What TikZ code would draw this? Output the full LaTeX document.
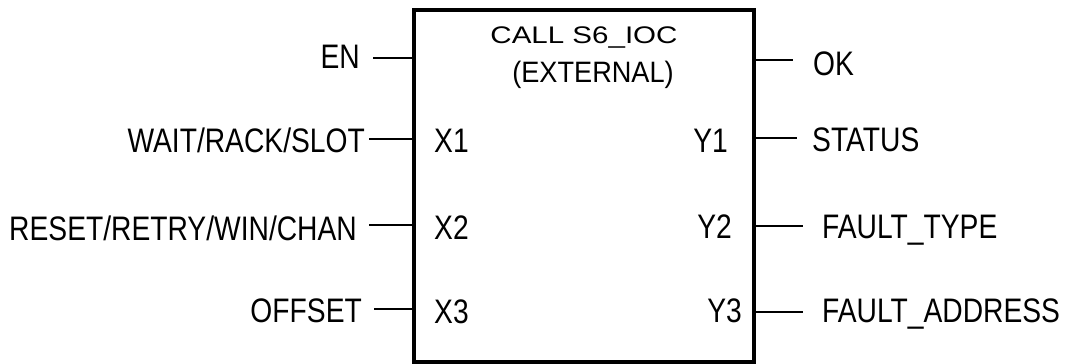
\documentclass[tikz,border=0pt]{standalone}
\usepackage{fontspec}
\setmainfont{Liberation Sans}
\newfontfamily\pinfont[FakeStretch=0.83]{Liberation Sans}
\newfontfamily\headfont[FakeStretch=1.23]{Liberation Sans}
\newfontfamily\subfont[FakeStretch=0.92]{Liberation Sans}
\begin{document}
\begin{tikzpicture}[x=1pt,y=-1pt,
  lbl/.style={font=\pinfont\fontsize{34}{38}\selectfont, inner sep=0pt,
              text height=23.4pt, text depth=0pt},
  pinline/.style={line width=2pt},
  block/.style={draw, line width=4pt, minimum width=340pt,
                minimum height=352pt, inner sep=0pt}]
\useasboundingbox (0,0) rectangle (1069,364);

% function block
\node[block] (fb) at (584,186) {};
\node[font=\headfont\fontsize{24}{27}\selectfont, inner sep=0pt,
      text height=16.5pt, text depth=0pt] (title) at (584,35) {CALL S6\_IOC};
\node[font=\subfont\fontsize{29.5}{33}\selectfont, inner sep=0pt,
      text height=20.3pt, text depth=0pt] (kind) at (593,72) {(EXTERNAL)};

% inputs
\node[lbl, anchor=east] (en)  at (360,57)  {EN};
\node[lbl, anchor=east] (in1) at (365,141) {WAIT/RACK/SLOT};
\node[lbl, anchor=east] (in2) at (357,229) {RESET/RETRY/WIN/CHAN};
\node[lbl, anchor=east] (in3) at (362,311) {OFFSET};

\node[lbl, anchor=west] (x1) at (434,141) {X1};
\node[lbl, anchor=west] (x2) at (434,228) {X2};
\node[lbl, anchor=west] (x3) at (434,312) {X3};

\coordinate (pen) at (373,58);
\coordinate (pi1) at (369,139);
\coordinate (pi2) at (369,225);
\coordinate (pi3) at (374,309);
\foreach \p in {pen,pi1,pi2,pi3}
  \draw[pinline] (\p) -- (\p -| fb.west);

% outputs
\node[lbl, anchor=east] (y1) at (728,141) {Y1};
\node[lbl, anchor=east] (y2) at (732,227) {Y2};
\node[lbl, anchor=east] (y3) at (742,311) {Y3};

\node[lbl, anchor=west] (ok)   at (813,64)  {OK};
\node[lbl, anchor=west] (out1) at (812,140) {STATUS};
\node[lbl, anchor=west] (out2) at (822,227) {FAULT\_TYPE};
\node[lbl, anchor=west] (out3) at (822,311) {FAULT\_ADDRESS};

\coordinate (pok) at (793,60);
\coordinate (po1) at (797,138);
\coordinate (po2) at (803,226);
\coordinate (po3) at (803,312);
\foreach \p in {pok,po1,po2,po3}
  \draw[pinline] (\p -| fb.east) -- (\p);
\end{tikzpicture}
\end{document}
